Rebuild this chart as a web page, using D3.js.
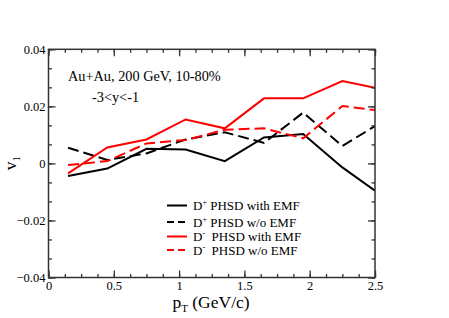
<!DOCTYPE html>
<html><head><meta charset="utf-8">
<script src="https://cdn.jsdelivr.net/npm/d3@7"></script>
<style>body{margin:0;background:#fff}svg{display:block}</style>
</head><body>
<script>
const pt = [0.15, 0.45, 0.75, 1.05, 1.35, 1.65, 1.95, 2.25, 2.5];
const dPlusEMF   = [-0.0044, -0.0018, 0.0051, 0.0049, 0.0008, 0.0091, 0.0103, -0.0014, -0.0096];
const dPlusNoEMF = [0.0055, 0.0012, 0.0035, 0.0084, 0.0109, 0.0072, 0.0178, 0.0061, 0.0131];
const dMinusEMF  = [-0.0035, 0.0056, 0.0084, 0.0154, 0.0123, 0.0228, 0.0228, 0.0289, 0.0265];
const dMinusNoEMF= [-0.0006, 0.0008, 0.0070, 0.0082, 0.0118, 0.0123, 0.0088, 0.0201, 0.0187];
const xTicks = [0, 0.5, 1, 1.5, 2, 2.5];
const yTicks = [-0.04, -0.02, 0, 0.02, 0.04];

const FONT = "Liberation Serif, Times New Roman, Times, serif";
const W = 449, H = 318;
const svg = d3.select("body").append("svg").attr("width", W).attr("height", H)
  .attr("font-family", FONT);
const x = d3.scaleLinear().domain([0, 2.5]).range([48.5, 375]);
const y = d3.scaleLinear().domain([-0.04, 0.04]).range([277.5, 49.3]);

const series = [
  {name:"D", sup:"+", label:" PHSD with EMF", vals:dPlusEMF, color:"#000", dash:null},
  {name:"D", sup:"+", label:" PHSD w/o EMF", vals:dPlusNoEMF, color:"#000", dash:"11,5"},
  {name:"D", sup:"-", label:"  PHSD with EMF", vals:dMinusEMF, color:"#ff0000", dash:null},
  {name:"D", sup:"-", label:"  PHSD w/o EMF", vals:dMinusNoEMF, color:"#ff0000", dash:"11,5"}
];

svg.append("defs").append("clipPath").attr("id","clip").append("rect")
  .attr("x", x(0)).attr("y", y(0.04)).attr("width", x(2.5)-x(0)).attr("height", y(-0.04)-y(0.04));

const line = d3.line().x((d,i)=>x(pt[i])).y(d=>y(d));
const g = svg.append("g").attr("clip-path","url(#clip)");
series.forEach(s=>{
  g.append("path").attr("d", line(s.vals)).attr("fill","none")
   .attr("stroke", s.color).attr("stroke-width", 2)
   .attr("stroke-dasharray", s.dash);
});

const axCol = "#333";
function styleAxis(sel){
  sel.attr("font-family", FONT).attr("font-size", 12.5);
  sel.selectAll(".domain").remove();
  sel.selectAll("line").attr("stroke", axCol).attr("stroke-width", 1.3);
  sel.selectAll("text").attr("fill","#000");
}
const xMinor = d3.range(0, 2.5001, 0.125);
const yMinor = d3.range(-0.04, 0.04001, 0.02/3);
const gb = svg.append("g").attr("transform",`translate(0,${y(-0.04)})`);
gb.call(d3.axisBottom(x).tickValues(xMinor).tickSize(-3.5).tickFormat(""));
styleAxis(gb);
const gb2 = svg.append("g").attr("transform",`translate(0,${y(-0.04)})`);
gb2.call(d3.axisBottom(x).tickValues(xTicks).tickSize(-7).tickFormat(d3.format("")));
styleAxis(gb2);
gb2.selectAll("text").attr("y", 3.5);
const gt = svg.append("g").attr("transform",`translate(0,${y(0.04)})`);
gt.call(d3.axisTop(x).tickValues(xMinor).tickSize(-3.5).tickFormat(""));
styleAxis(gt);
const gt2 = svg.append("g").attr("transform",`translate(0,${y(0.04)})`);
gt2.call(d3.axisTop(x).tickValues(xTicks).tickSize(-7).tickFormat(""));
styleAxis(gt2);
const gl = svg.append("g").attr("transform",`translate(${x(0)},0)`);
gl.call(d3.axisLeft(y).tickValues(yMinor).tickSize(-3.5).tickFormat(""));
styleAxis(gl);
const gl2 = svg.append("g").attr("transform",`translate(${x(0)},0)`);
gl2.call(d3.axisLeft(y).tickValues(yTicks).tickSize(-7).tickFormat(d=> d===0?"0":d3.format(".2f")(d)));
styleAxis(gl2);
gl2.selectAll("text").attr("x",-3);
const gr = svg.append("g").attr("transform",`translate(${x(2.5)},0)`);
gr.call(d3.axisRight(y).tickValues(yMinor).tickSize(-3.5).tickFormat(""));
styleAxis(gr);
const gr2 = svg.append("g").attr("transform",`translate(${x(2.5)},0)`);
gr2.call(d3.axisRight(y).tickValues(yTicks).tickSize(-7).tickFormat(""));
styleAxis(gr2);

svg.append("rect").attr("x", x(0)).attr("y", y(0.04)).attr("width", x(2.5)-x(0)).attr("height", y(-0.04)-y(0.04))
  .attr("fill","none").attr("stroke", axCol).attr("stroke-width", 1.5);

svg.append("text").attr("x", 68).attr("y", 81).attr("font-size", 14.3).text("Au+Au, 200 GeV, 10-80%");
svg.append("text").attr("x", 92).attr("y", 102).attr("font-size", 14.3).text("-3<y<-1");

const xt = svg.append("text").attr("x", 211).attr("y", 308).attr("text-anchor","middle").attr("font-size", 17.5);
xt.append("tspan").text("p");
xt.append("tspan").attr("font-size", 11).attr("dy", 4).text("T");
xt.append("tspan").attr("dy", -4).text(" (GeV/c)");
const yt = svg.append("text").attr("transform","translate(16,163) rotate(-90)").attr("text-anchor","middle").attr("font-size", 17.5);
yt.append("tspan").text("v");
yt.append("tspan").attr("font-size", 11).attr("dy", 4).text("1");

const legY = [205.5, 222, 236.5, 250];
series.forEach((s,i)=>{
  svg.append("line").attr("x1",167).attr("x2",187).attr("y1",legY[i]).attr("y2",legY[i])
    .attr("stroke", s.color).attr("stroke-width", 2).attr("stroke-dasharray", s.dash ? "7,4" : null);
  const t = svg.append("text").attr("x", 193).attr("y", legY[i]+4.5).attr("font-size", 13).style("white-space","pre");
  t.append("tspan").text(s.name);
  t.append("tspan").attr("font-size", 8).attr("dy", -5).text(s.sup);
  t.append("tspan").attr("dy", 5).text(s.label);
});
</script>
</body></html>
